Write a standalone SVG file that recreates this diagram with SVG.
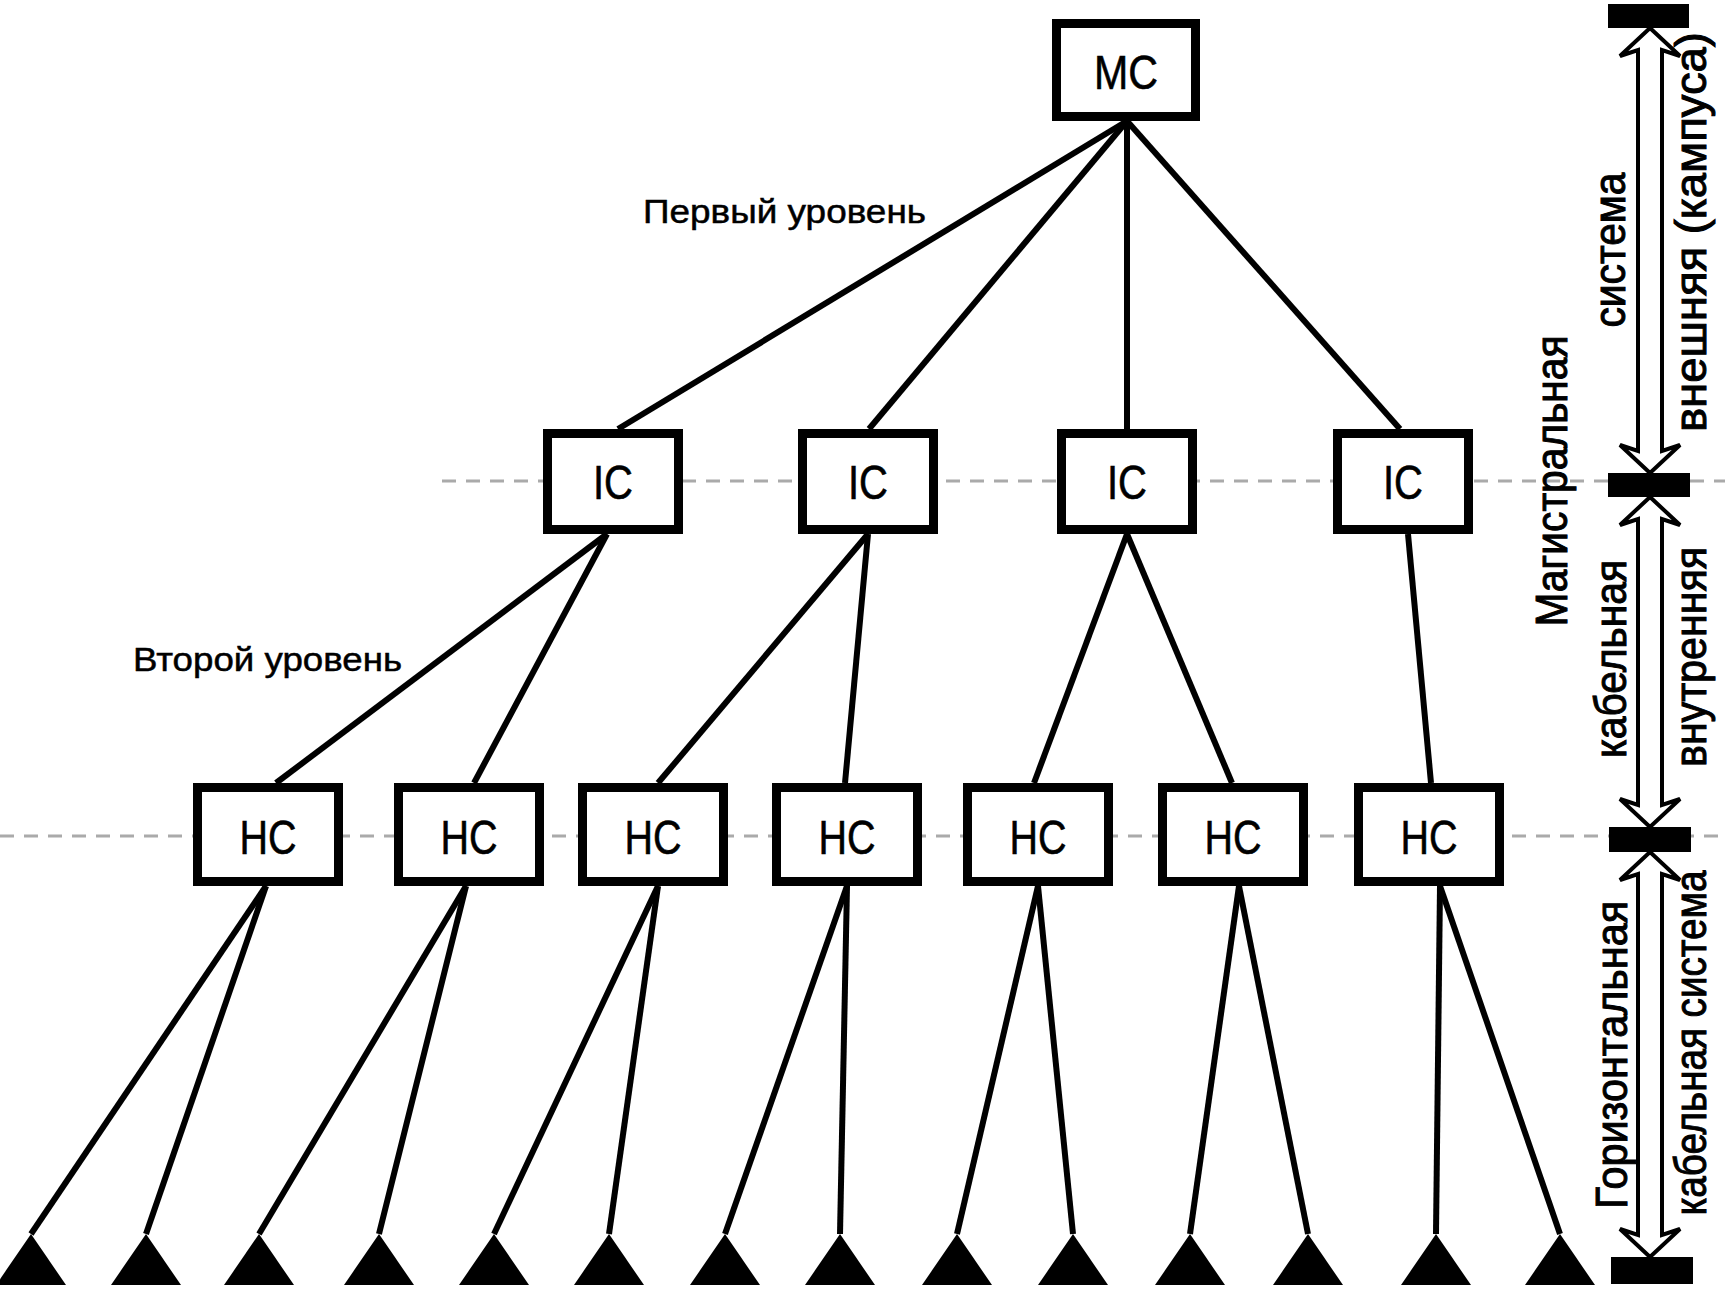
<svg xmlns="http://www.w3.org/2000/svg" width="1725" height="1289" viewBox="0 0 1725 1289">
<style>
.box{fill:#fff;stroke:#000;stroke-width:9}
.bt{font-family:"Liberation Sans",Arial,sans-serif;font-size:48px;text-anchor:middle;fill:#000;stroke:#000;stroke-width:0.6}
.lbl{font-family:"Liberation Sans",Arial,sans-serif;font-size:33px;fill:#000;stroke:#000;stroke-width:0.5}
.vt{font-family:"Liberation Sans",Arial,sans-serif;font-size:44px;text-anchor:middle;fill:#000;stroke:#000;stroke-width:1}
.con line{stroke:#000;stroke-width:6;stroke-linecap:butt}
.dash{stroke:#aaa;stroke-width:3;stroke-dasharray:14 10;fill:none}
.tri{fill:#000}
.bar{fill:#000}
.arr{fill:#fff;stroke:#000;stroke-width:4;stroke-linejoin:miter}
</style>
<rect width="1725" height="1289" fill="#fff"/>
<g id="levels">
<line class="dash" x1="442" y1="481" x2="1725" y2="481"/>
<line class="dash" x1="0" y1="836" x2="1725" y2="836"/>
</g>
<g id="connectors" class="con">
<line x1="1127" y1="121" x2="618" y2="429"/>
<line x1="1127" y1="121" x2="869" y2="429"/>
<line x1="1127" y1="121" x2="1127" y2="429"/>
<line x1="1127" y1="121" x2="1400" y2="429"/>
<line x1="607" y1="534" x2="276" y2="783"/>
<line x1="607" y1="534" x2="474" y2="783"/>
<line x1="868" y1="534" x2="658" y2="783"/>
<line x1="868" y1="534" x2="845" y2="783"/>
<line x1="1127" y1="534" x2="1034" y2="783"/>
<line x1="1127" y1="534" x2="1232" y2="783"/>
<line x1="1408" y1="534" x2="1431" y2="783"/>
<line x1="266" y1="886" x2="31" y2="1234"/>
<line x1="266" y1="886" x2="146" y2="1234"/>
<line x1="466" y1="886" x2="259" y2="1234"/>
<line x1="466" y1="886" x2="379" y2="1234"/>
<line x1="658" y1="886" x2="494" y2="1234"/>
<line x1="658" y1="886" x2="609" y2="1234"/>
<line x1="847" y1="886" x2="725" y2="1234"/>
<line x1="847" y1="886" x2="840" y2="1234"/>
<line x1="1038" y1="886" x2="957" y2="1234"/>
<line x1="1038" y1="886" x2="1073" y2="1234"/>
<line x1="1239" y1="886" x2="1190" y2="1234"/>
<line x1="1239" y1="886" x2="1308" y2="1234"/>
<line x1="1440" y1="886" x2="1436" y2="1234"/>
<line x1="1440" y1="886" x2="1560" y2="1234"/>
</g>
<g id="outlets">
<polygon id="t1" class="tri" points="31,1234 66,1285 -4,1285"/>
<polygon id="t2" class="tri" points="146,1234 181,1285 111,1285"/>
<polygon id="t3" class="tri" points="259,1234 294,1285 224,1285"/>
<polygon id="t4" class="tri" points="379,1234 414,1285 344,1285"/>
<polygon id="t5" class="tri" points="494,1234 529,1285 459,1285"/>
<polygon id="t6" class="tri" points="609,1234 644,1285 574,1285"/>
<polygon id="t7" class="tri" points="725,1234 760,1285 690,1285"/>
<polygon id="t8" class="tri" points="840,1234 875,1285 805,1285"/>
<polygon id="t9" class="tri" points="957,1234 992,1285 922,1285"/>
<polygon id="t10" class="tri" points="1073,1234 1108,1285 1038,1285"/>
<polygon id="t11" class="tri" points="1190,1234 1225,1285 1155,1285"/>
<polygon id="t12" class="tri" points="1308,1234 1343,1285 1273,1285"/>
<polygon id="t13" class="tri" points="1436,1234 1471,1285 1401,1285"/>
<polygon id="t14" class="tri" points="1560,1234 1595,1285 1525,1285"/>
</g>
<g id="mc"><rect class="box" x="1056.5" y="23.5" width="139" height="93"/><text class="bt" x="1126" y="89" textLength="64" lengthAdjust="spacingAndGlyphs">MC</text></g>
<g id="ic1"><rect class="box" x="547.5" y="433.5" width="131" height="96"/><text class="bt" x="613" y="499" textLength="40" lengthAdjust="spacingAndGlyphs">IC</text></g>
<g id="ic2"><rect class="box" x="802.5" y="433.5" width="131" height="96"/><text class="bt" x="868" y="499" textLength="40" lengthAdjust="spacingAndGlyphs">IC</text></g>
<g id="ic3"><rect class="box" x="1061.5" y="433.5" width="131" height="96"/><text class="bt" x="1127" y="499" textLength="40" lengthAdjust="spacingAndGlyphs">IC</text></g>
<g id="ic4"><rect class="box" x="1337.5" y="433.5" width="131" height="96"/><text class="bt" x="1403" y="499" textLength="40" lengthAdjust="spacingAndGlyphs">IC</text></g>
<g id="hc1"><rect class="box" x="197.5" y="787.5" width="141" height="94"/><text class="bt" x="268" y="854" textLength="57" lengthAdjust="spacingAndGlyphs">HC</text></g>
<g id="hc2"><rect class="box" x="398.5" y="787.5" width="141" height="94"/><text class="bt" x="469" y="854" textLength="57" lengthAdjust="spacingAndGlyphs">HC</text></g>
<g id="hc3"><rect class="box" x="582.5" y="787.5" width="141" height="94"/><text class="bt" x="653" y="854" textLength="57" lengthAdjust="spacingAndGlyphs">HC</text></g>
<g id="hc4"><rect class="box" x="776.5" y="787.5" width="141" height="94"/><text class="bt" x="847" y="854" textLength="57" lengthAdjust="spacingAndGlyphs">HC</text></g>
<g id="hc5"><rect class="box" x="967.5" y="787.5" width="141" height="94"/><text class="bt" x="1038" y="854" textLength="57" lengthAdjust="spacingAndGlyphs">HC</text></g>
<g id="hc6"><rect class="box" x="1162.5" y="787.5" width="141" height="94"/><text class="bt" x="1233" y="854" textLength="57" lengthAdjust="spacingAndGlyphs">HC</text></g>
<g id="hc7"><rect class="box" x="1358.5" y="787.5" width="141" height="94"/><text class="bt" x="1429" y="854" textLength="57" lengthAdjust="spacingAndGlyphs">HC</text></g>
<g id="labels">
<text class="lbl" x="643" y="223" textLength="283" lengthAdjust="spacingAndGlyphs">Первый уровень</text>
<text class="lbl" x="133" y="671" textLength="269" lengthAdjust="spacingAndGlyphs">Второй уровень</text>
</g>
<g id="scale">
<path class="arr" d="M1650,28 L1680,56 L1662,50 L1662,451 L1680,445 L1650,473 L1620,445 L1638,451 L1638,50 L1620,56 Z"/>
<path class="arr" d="M1650,497 L1680,525 L1662,519 L1662,805 L1680,799 L1650,827 L1620,799 L1638,805 L1638,519 L1620,525 Z"/>
<path class="arr" d="M1650,852 L1680,880 L1662,874 L1662,1235 L1680,1229 L1650,1257 L1620,1229 L1638,1235 L1638,874 L1620,880 Z"/>
<rect class="bar" x="1608" y="4" width="81" height="24"/>
<rect class="bar" x="1608" y="473" width="82" height="24"/>
<rect class="bar" x="1609" y="827" width="82" height="25"/>
<rect class="bar" x="1611" y="1257" width="82" height="27"/>
<text class="vt" transform="translate(1625,250) rotate(-90)" textLength="155" lengthAdjust="spacingAndGlyphs">система</text>
<text class="vt" transform="translate(1706,232) rotate(-90)" textLength="400" lengthAdjust="spacingAndGlyphs">внешняя (кампуса)</text>
<text class="vt" transform="translate(1567,481) rotate(-90)" textLength="291" lengthAdjust="spacingAndGlyphs">Магистральная</text>
<text class="vt" transform="translate(1626,659) rotate(-90)" textLength="198" lengthAdjust="spacingAndGlyphs">кабельная</text>
<text class="vt" transform="translate(1706,657) rotate(-90)" textLength="220" lengthAdjust="spacingAndGlyphs">внутренняя</text>
<text class="vt" transform="translate(1627,1055) rotate(-90)" textLength="308" lengthAdjust="spacingAndGlyphs">Горизонтальная</text>
<text class="vt" transform="translate(1706,1043) rotate(-90)" textLength="345" lengthAdjust="spacingAndGlyphs">кабельная система</text>
</g>
</svg>
